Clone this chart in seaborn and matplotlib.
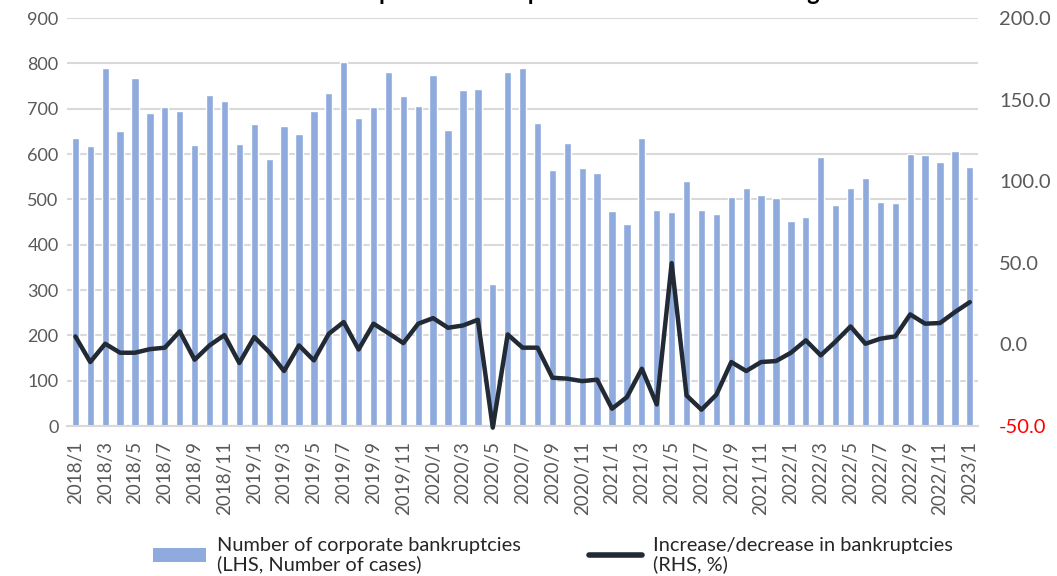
import matplotlib
matplotlib.use("Agg")
import matplotlib.pyplot as plt
import seaborn as sns
import numpy as np
import pandas as pd
from matplotlib.patches import Patch
from matplotlib.lines import Line2D

months = [f"{y}/{m}" for y in range(2018, 2023) for m in range(1, 13)] + ["2023/1"]

bankruptcies = [635, 618, 790, 651, 767, 690, 703, 695, 621, 731, 718, 623,
                666, 589, 662, 645, 695, 735, 803, 679, 703, 781, 728, 705,
                774, 652, 741, 743, 314, 781, 790, 668, 565, 625, 570, 559,
                474, 446, 635, 477, 472, 541, 476, 467, 506, 526, 510, 504,
                453, 460, 594, 487, 525, 547, 494, 492, 601, 597, 582, 607,
                571]

change_pct = [4.9, -10.8, 0.4, -5.1, -5.1, -2.9, -2.0, 8.0, -9.4, -0.6, 5.7, -11.4,
              4.5, -4.7, -16.3, -0.6, -9.8, 6.5, 13.7, -3.1, 12.7, 6.9, 0.8, 12.7,
              16.1, 10.2, 11.6, 15.1, -51.0, 6.1, -2.0, -2.0, -20.4, -21.0, -22.5, -21.6,
              -39.4, -32.3, -14.9, -36.8, 49.8, -31.3, -40.0, -30.8, -10.8, -16.3, -10.8, -10.2,
              -5.1, 2.5, -6.7, 1.8, 11.0, 0.4, 3.5, 4.9, 18.4, 12.7, 13.1, 19.8,
              25.9]

left_ticks = list(range(0, 1000, 100))
right_ticks = [-50, 0, 50, 100, 150, 200]

label_bars = "Number of corporate bankruptcies\n(LHS, Number of cases)"
label_line = "Increase/decrease in bankruptcies\n(RHS, %)"
title_text = "Corporate bankruptcies and the rate of change"

BAR_COLOR = "#8FAADC"
LINE_COLOR = "#222A35"
GRID_COLOR = "#D9D9D9"
TEXT_COLOR = "#595959"

sns.set_theme(style="white")
plt.rcParams['font.family'] = ['Lato', 'DejaVu Sans']

df = pd.DataFrame({"month": months, "count": bankruptcies, "chg": change_pct})
df["pos"] = np.arange(len(df))

fig = plt.figure(figsize=(10.57, 5.76), dpi=100)
ax = fig.add_axes([0.0634, 0.2604, 0.862, 0.7083])

sns.barplot(data=df, x="month", y="count", color=BAR_COLOR, width=0.49,
            saturation=1, ax=ax, zorder=2)
ax.set_ylim(0, 900)
ax.set_yticks(left_ticks)
ax.set_yticklabels([str(t) for t in left_ticks], fontsize=13, color=TEXT_COLOR)
ax.yaxis.grid(True, color=GRID_COLOR, linewidth=1.5, zorder=0)
ax.set_axisbelow(True)
ax.set_xlim(-0.56, len(months) - 1 + 0.56)
ax.set_xticks(range(0, len(months), 2))
ax.set_xticklabels(months[::2], rotation=90, fontsize=13.5, color=TEXT_COLOR)
ax.tick_params(axis="y", length=0, pad=6)
ax.tick_params(axis="x", length=0, pad=11)
ax.set_xlabel("")
ax.set_ylabel("")
for s in ["top", "right", "left"]:
    ax.spines[s].set_visible(False)
ax.spines["bottom"].set_color(GRID_COLOR)
ax.spines["bottom"].set_linewidth(1.5)

ax2 = ax.twinx()
sns.lineplot(data=df, x="pos", y="chg", color=LINE_COLOR, linewidth=3.2,
             ax=ax2, sort=False, zorder=3)
for l in ax2.lines:
    l.set_clip_on(False)
ax2.set_ylim(-50, 200)
ax2.set_yticks(right_ticks)
ax2.set_yticklabels([f"{t:.1f}" for t in right_ticks], fontsize=14.5, color=TEXT_COLOR)
ax2.get_yticklabels()[0].set_color("red")
ax2.tick_params(axis="y", length=0, pad=15)
ax2.set_xlabel("")
ax2.set_ylabel("")
for s in ["top", "right", "left", "bottom"]:
    ax2.spines[s].set_visible(False)
ax2.set_xlim(ax.get_xlim())

handles = [Patch(facecolor=BAR_COLOR, edgecolor="none"),
           Line2D([0], [0], color=LINE_COLOR, linewidth=4)]
leg = fig.legend(handles, [label_bars, label_line], loc="lower left",
                 bbox_to_anchor=(0.128, -0.026), ncol=2, frameon=False,
                 fontsize=14.4, handlelength=2.65, handletextpad=0.55,
                 columnspacing=3.4, labelspacing=0.2)
for t in leg.get_texts():
    t.set_linespacing(1.05)

fig.text(0.555, 1.0, title_text, ha="center", va="baseline",
         fontsize=17, fontweight="bold", color="black")

fig.savefig("out.png", dpi=100)
